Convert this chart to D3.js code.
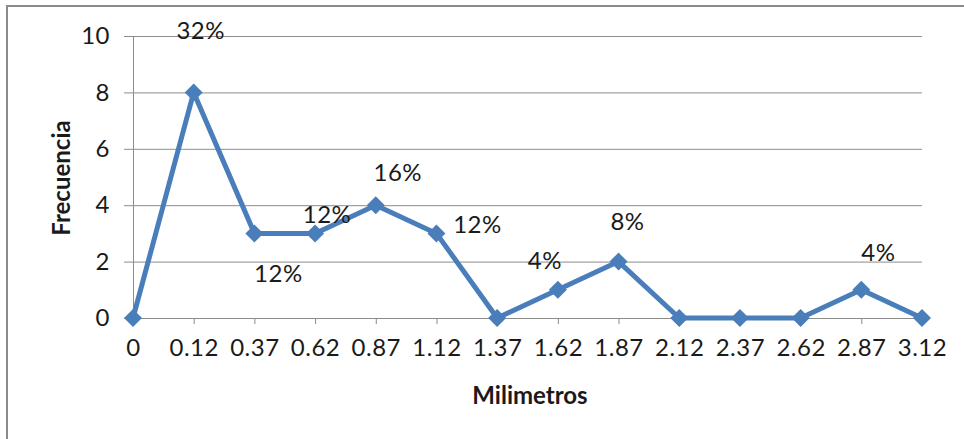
<!DOCTYPE html>
<html>
<head>
<meta charset="utf-8">
<script src="https://cdn.jsdelivr.net/npm/d3@7"></script>
<style>
  html, body { margin: 0; padding: 0; background: #fff; }
  svg { display: block; }
  text { font-family: Lato, "Open Sans", sans-serif; fill: #1a1a1a; }
</style>
</head>
<body>
<svg id="chart" width="964" height="439"></svg>
<script>
// ---- data ----
const categories = ["0", "0.12", "0.37", "0.62", "0.87", "1.12", "1.37", "1.62", "1.87", "2.12", "2.37", "2.62", "2.87", "3.12"];
const frecuencia = [0, 8, 3, 3, 4, 3, 0, 1, 2, 0, 0, 0, 1, 0];
const percentLabels = ["", "32%", "12%", "12%", "16%", "12%", "", "4%", "8%", "", "", "", "4%", ""];
const yTicks = [0, 2, 4, 6, 8, 10];
const xTitle = "Milimetros";
const yTitle = "Frecuencia";

// ---- layout (label placement offsets, px) ----
const labelOffsets = [[0,0],[7,-63],[24,39],[12,-20],[22,-34],[41,-10],[0,0],[-13,-30],[9,-41],[0,0],[0,0],[0,0],[17,-38],[0,0]];

const svg = d3.select("#chart");
const blue = "#4a7ebb";
const grid = "#8c8c8c";
const fs = "24px";

// outer chart border (clipped at right/bottom like the reference)
svg.append("rect")
  .attr("x", 7).attr("y", 6).attr("width", 980).attr("height", 460)
  .attr("fill", "none").attr("stroke", "#8a8a8a").attr("stroke-width", 2);

const x = d3.scalePoint().domain(categories).range([133, 922]);
const y = d3.scaleLinear().domain([0, 10]).range([318, 36]);

// horizontal gridlines + y axis
const yAxis = d3.axisLeft(y).tickValues(yTicks).tickSize(-(922 - 133)).tickSizeOuter(0).tickPadding(14);
const gy = svg.append("g").attr("transform", "translate(133,0)").call(yAxis);
gy.select(".domain").attr("stroke", grid);
gy.selectAll(".tick line").attr("stroke", grid).attr("x1", -9);
gy.selectAll(".tick text").style("font-size", fs).style("letter-spacing", "0.5px").attr("x", -23).attr("fill", "#1a1a1a");

// x axis
const xAxis = d3.axisBottom(x).tickSize(6).tickSizeOuter(0).tickPadding(15);
const gx = svg.append("g").attr("transform", "translate(0,318)").call(xAxis);
gx.select(".domain").attr("stroke", grid).attr("d", "M133,0.5H922");
gx.selectAll(".tick line").attr("stroke", grid);
gx.selectAll(".tick text").style("font-size", fs).style("letter-spacing", "0.5px").attr("fill", "#1a1a1a");

// line
const line = d3.line().x((d, i) => x(categories[i])).y(d => y(d));
svg.append("path").datum(frecuencia)
  .attr("d", line).attr("fill", "none")
  .attr("stroke", blue).attr("stroke-width", 5).attr("stroke-linejoin", "round");

// diamond markers
const r = 9;
svg.append("g").selectAll("path").data(frecuencia).join("path")
  .attr("transform", (d, i) => `translate(${x(categories[i])},${y(d)})`)
  .attr("d", `M0,${-r}L${r},0L0,${r}L${-r},0Z`)
  .attr("fill", blue);

// data labels
const labelData = frecuencia.map((v, i) => ({ i, v, t: percentLabels[i] })).filter(d => d.t !== "");
svg.append("g").selectAll("text").data(labelData).join("text")
  .attr("x", d => x(categories[d.i]) + labelOffsets[d.i][0])
  .attr("y", d => y(d.v) + labelOffsets[d.i][1])
  .attr("text-anchor", "middle").attr("dominant-baseline", "central")
  .style("font-size", fs).style("letter-spacing", "0.5px")
  .text(d => d.t);

// axis titles
svg.append("text").attr("x", 530).attr("y", 394)
  .attr("text-anchor", "middle").attr("dominant-baseline", "central")
  .style("font-size", "24px").style("font-weight", "bold")
  .text(xTitle);
svg.append("text")
  .attr("transform", "translate(60,178) rotate(-90)")
  .attr("text-anchor", "middle").attr("dominant-baseline", "central")
  .style("font-size", "24px").style("font-weight", "bold")
  .text(yTitle);
</script>
</body>
</html>
